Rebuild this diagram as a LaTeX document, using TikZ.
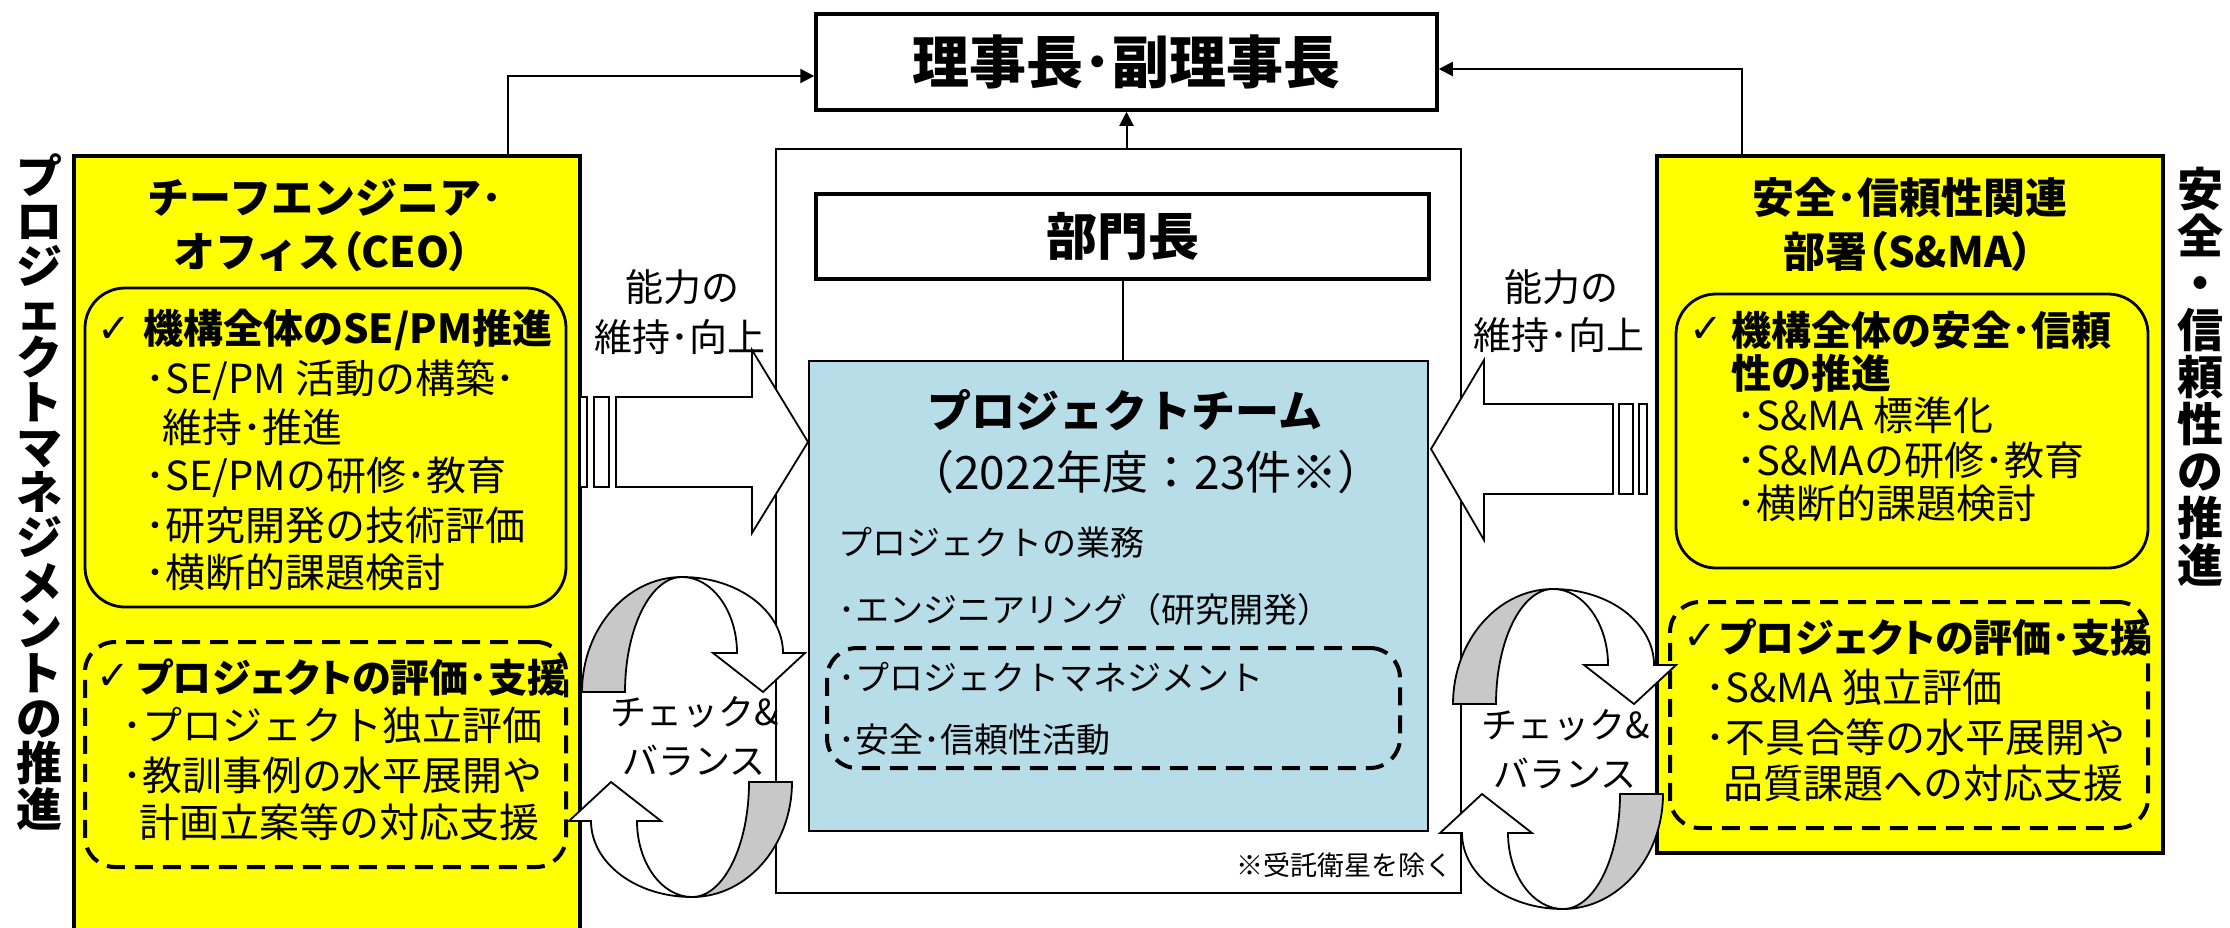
\documentclass[tikz,border=0pt]{standalone}
\usepackage{fontspec}
\setmainfont{Noto Sans CJK JP}
\newfontfamily\pf{Noto Sans CJK JP}[RawFeature=+palt]
\newfontfamily\symfont{DejaVu Sans}
\usetikzlibrary{fit,arrows.meta}
\definecolor{ylw}{RGB}{255,255,0}
\definecolor{lblue}{RGB}{183,222,232}
\definecolor{rgray}{RGB}{200,200,200}
\newcommand\jfs[1]{\fontsize{#1pt}{#1pt}\selectfont}
\tikzset{
  box/.style={draw, line width=1.75pt, inner sep=0pt},
  thinbox/.style={draw, line width=1pt, inner sep=0pt},
  rbox/.style={draw, line width=1.4pt, rounded corners=20pt, inner sep=0pt},
  dbox/.style={draw, line width=2pt, dash pattern=on 9pt off 5pt, rounded corners=15pt, inner sep=0pt},
  conn/.style={line width=1pt, -{Triangle[length=7pt,width=7pt]}},
  plain/.style={line width=1pt},
  txt/.style={inner sep=0pt, anchor=west},
  ctxt/.style={inner sep=0pt},
  blk/.style={draw, fill=white, line width=0.9pt, line join=miter},
  chk/.style={inner sep=0pt, font=\symfont\bfseries\jfs{20}},
  cyc/.pic={
    \foreach \r in {0,180}{
      \begin{scope}[rotate=\r]
        \draw[blk, fill=rgray] (-105,-45) .. controls (-105,-108.5) and (-60,-160) .. (-5,-160)
          .. controls (-36.5,-160) and (-62,-108.5) .. (-62,-45) -- cycle;
        \draw[blk] (-5,-160) .. controls (51,-160) and (96,-126) .. (96,-84) -- (118,-84) -- (76,-45)
          -- (26,-84) -- (50,-84) .. controls (50,-126) and (25,-160) .. (-5,-160) -- cycle;
      \end{scope}
    }
  }
}
\begin{document}
\begin{tikzpicture}[x=0.5pt,y=-0.5pt]
\useasboundingbox (0,0) rectangle (2230,927);
\clip (0,0) rectangle (2230,927);

% yellow side boxes
\node[box, fill=ylw, fit={(74,156) (580,960)}] (ceo) {};
\node[box, fill=ylw, fit={(1657,156) (2163,853)}] (sma) {};

% centre
\node[thinbox, fill=white, fit={(776,149) (1461,893)}] (frame) {};
\node[box, fill=white, fit={(816,14) (1437,110)}] (top) {};
\node[ctxt, font=\bfseries\jfs{28.5}] (toptxt) at (top.center) {理事長･副理事長};
\node[box, fill=white, fit={(816,194) (1429,279)}] (bucho) {};
\node[ctxt, font=\bfseries\jfs{25.5}] (buchotxt) at (bucho.center) {部門長};
\node[thinbox, fill=lblue, fit={(809,361) (1428,831)}] (team) {};

% vertical texts
\node[inner sep=0pt, anchor=north, align=center, font=\bfseries\fontsize{23pt}{22.6pt}\selectfont] (vl) at (40,153)
  {プ\\ロ\\ジ\\ェ\\ク\\ト\\マ\\ネ\\ジ\\メ\\ン\\ト\\の\\推\\進};
\node[inner sep=0pt, anchor=north, align=center, font=\bfseries\fontsize{23pt}{23.5pt}\selectfont] (vr) at (2200,167)
  {安\\全\\・\\信\\頼\\性\\の\\推\\進};

% left box contents
\node[ctxt, font=\bfseries\jfs{21}] (ch1) at (325,197) {チーフエンジニア･};
\node[ctxt, font=\bfseries\jfs{21}] (ch2) at (322,252) {オフィス{\pf（CEO）}};
\node[rbox, fit={(85,288) (566,607)}] (crb) {};
\node[chk] (ck1) at (114,330) {✓};
\node[txt, font=\bfseries\jfs{20}] (c1) at (143,330) {機構全体のSE/PM推進};
\node[txt, font=\jfs{20}] (c2) at (145,380) {･SE/PM 活動の構築･};
\node[txt, font=\jfs{20}] (c3) at (162,427) {維持･推進};
\node[txt, font=\jfs{20}] (c4) at (145,477) {･SE/PMの研修･教育};
\node[txt, font=\jfs{20}] (c5) at (145,525) {･研究開発の技術評価};
\node[txt, font=\jfs{20}] (c6) at (145,572) {･横断的課題検討};
\node[dbox, fit={(85,642) (566,867)}] (cdb) {};
\node[chk] (ck2) at (113,677) {✓};
\node[txt, font=\pf\bfseries\jfs{19.5}] (c7) at (136,677) {プロジェクトの評価･支援};
\node[txt, font=\jfs{20}] (c8) at (122,725) {･プロジェクト独立評価};
\node[txt, font=\jfs{20}] (c9) at (122,775) {･教訓事例の水平展開や};
\node[txt, font=\jfs{20}] (c10) at (139,822) {計画立案等の対応支援};

% right box contents
\node[ctxt, font=\bfseries\jfs{21}] (sh1) at (1910,197) {安全･信頼性関連};
\node[ctxt, font=\bfseries\jfs{21}] (sh2) at (1908,252) {部署{\pf（S\&MA）}};
\node[rbox, fit={(1676,294) (2148,568)}] (srb) {};
\node[chk] (ck3) at (1706,330) {✓};
\node[txt, font=\bfseries\jfs{20}] (s1) at (1731,330) {機構全体の安全･信頼};
\node[txt, font=\bfseries\jfs{20}] (s2) at (1731,373) {性の推進};
\node[txt, font=\jfs{20}] (s3) at (1736,415) {･S\&MA 標準化};
\node[txt, font=\jfs{20}] (s4) at (1736,460) {･S\&MAの研修･教育};
\node[txt, font=\jfs{20}] (s5) at (1736,503) {･横断的課題検討};
\node[dbox, fit={(1670,602) (2148,828)}] (sdb) {};
\node[chk] (ck4) at (1700,637) {✓};
\node[txt, font=\pf\bfseries\jfs{19.5}] (s6) at (1719,637) {プロジェクトの評価･支援};
\node[txt, font=\jfs{20}] (s7) at (1705,687) {･S\&MA 独立評価};
\node[txt, font=\jfs{20}] (s8) at (1705,737) {･不具合等の水平展開や};
\node[txt, font=\jfs{20}] (s9) at (1723,783) {品質課題への対応支援};

% project team contents
\node[ctxt, font=\bfseries\jfs{22}] (t1) at (1125,410) {プロジェクトチーム};
\node[ctxt, font=\jfs{23}] (t2) at (1146,472) {（2022年度：23件※）};
\node[txt, font=\jfs{17}] (t3) at (838,543) {プロジェクトの業務};
\node[txt, font=\jfs{17}] (t4) at (838,610) {･エンジニアリング（研究開発）};
\node[dbox, fit={(827,648) (1400,768)}] (tdb) {};
\node[txt, font=\jfs{17}] (t5) at (838,677) {･プロジェクトマネジメント};
\node[txt, font=\jfs{17}] (t6) at (838,740) {･安全･信頼性活動};
\node[inner sep=0pt, anchor=east, font=\jfs{13.5}] (note) at (1453,865) {※受託衛星を除く};

% connectors
\coordinate (lbend) at (508,76);
\coordinate (rbend) at (1742,69);
\draw[conn] (ceo.north -| lbend) |- (top.west |- lbend);
\draw[conn] (sma.north -| rbend) |- (top.east |- rbend);
\draw[conn] (frame.north -| top.south) -- (top.south);
\draw[plain] (bucho.south) -- (team.north -| bucho.south);

% striped block arrows
\draw[blk] (580,397) rectangle (587,487);
\draw[blk] (594,397) rectangle (609,487);
\draw[blk] (616,397) -- (752,397) -- (752,350) -- (808,442) -- (752,533) -- (752,487) -- (616,487) -- cycle;
\draw[blk] (1639,404) rectangle (1647,494);
\draw[blk] (1619,404) rectangle (1633,494);
\draw[blk] (1613,404) -- (1484,404) -- (1484,360) -- (1431,449) -- (1484,540) -- (1484,494) -- (1613,494) -- cycle;

% circular arrows
\pic at (687,737) {cyc};
\pic at (1558,749) {cyc};

% labels
\node[ctxt, font=\jfs{19}] (n1) at (682,287) {能力の};
\node[ctxt, font=\jfs{19}] (n2) at (680,337) {維持･向上};
\node[ctxt, font=\jfs{19}] (n3) at (1561,287) {能力の};
\node[ctxt, font=\jfs{19}] (n4) at (1559,335) {維持･向上};
\node[ctxt, font=\jfs{18}] (b1) at (695,712) {チェック\&};
\node[ctxt, font=\jfs{18}] (b2) at (694,760) {バランス};
\node[ctxt, font=\jfs{18}] (b3) at (1566,725) {チェック\&};
\node[ctxt, font=\jfs{18}] (b4) at (1565,773) {バランス};
\end{tikzpicture}
\end{document}
